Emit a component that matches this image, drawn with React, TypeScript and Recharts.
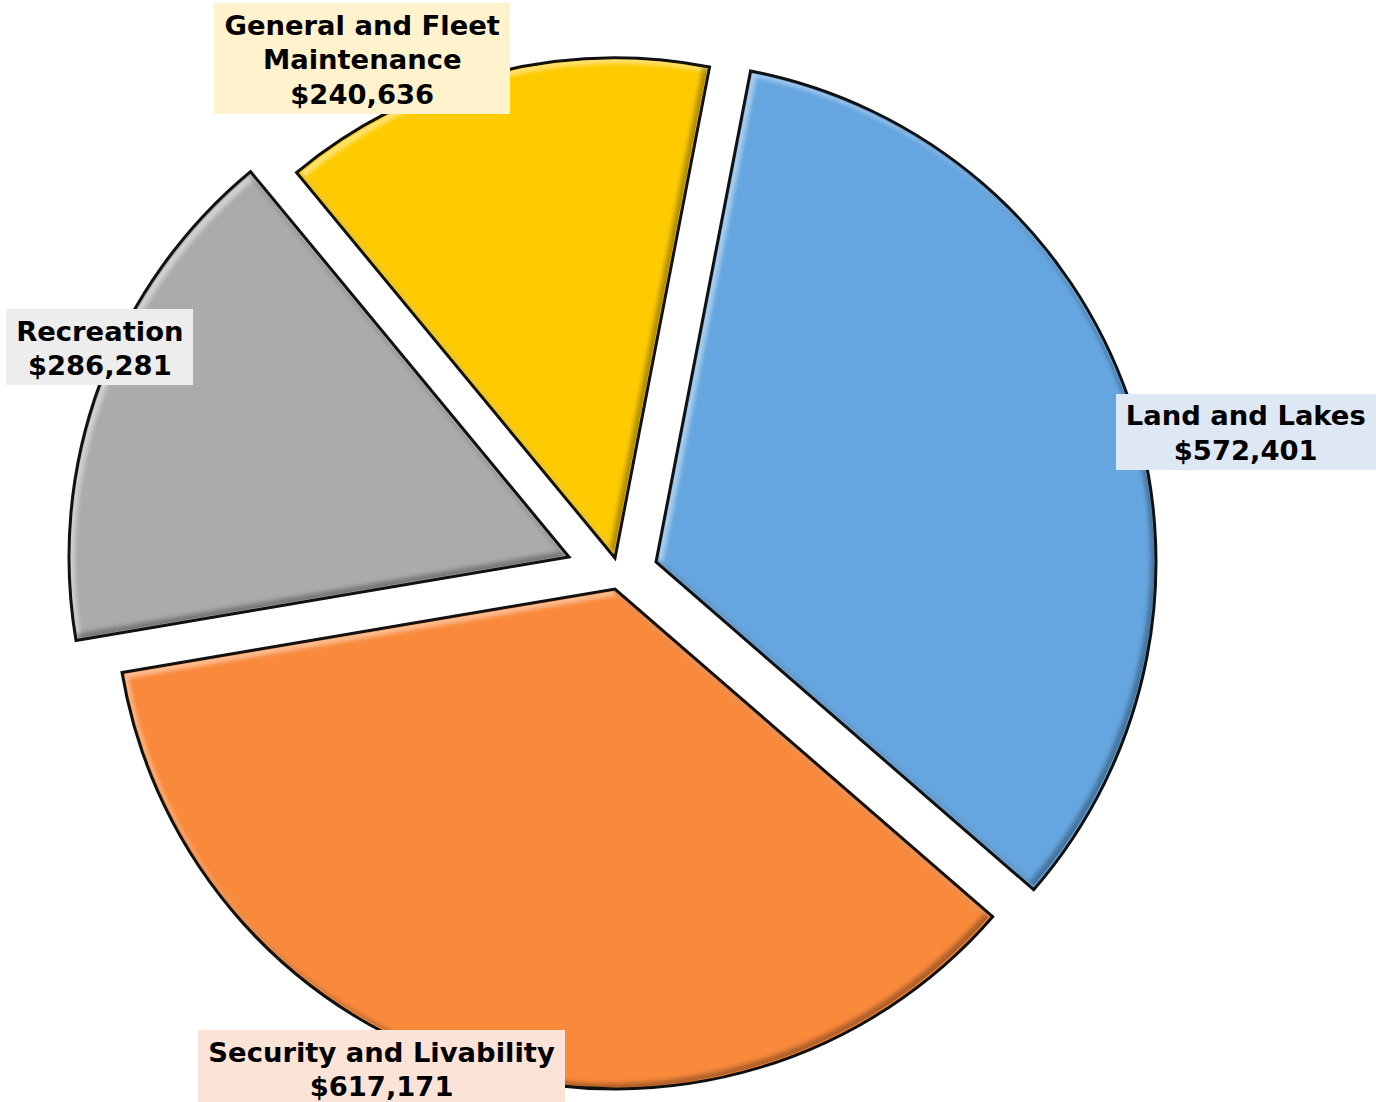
import React from "react";
import { PieChart, Pie, Cell } from "recharts";

// ---------- data ----------
const categories = [
  "Land and Lakes",
  "Security and Livability",
  "Recreation",
  "General and Fleet Maintenance",
];
const amounts = [572401, 617171, 286281, 240636];

// ---------- styles ----------
const sliceColors = ["#65A6E0", "#F9893B", "#ABABAB", "#FECB00"];
const labelFills = ["#DEE8F4", "#FBE4D7", "#EDEDED", "#FFF2CC"];

const WIDTH = 1376;
const HEIGHT = 1102;
const CX = 615;
const CY = 565;
const RADIUS = 500;
const START = 79.1;
const WRAP_CHARS = 23;
// per-slice explosion shift (px)
const EXPLODE = [
  { dx: 41, dy: -3 },
  { dx: 0, dy: 24 },
  { dx: -46, dy: -8 },
  { dx: 0, dy: -7 },
];
// label placement: distance as multiple of radius, angular nudge (deg, clockwise)
const LABEL_PLACE = [
  { k: 1.208, nudge: 6.6 },
  { k: 1.066, nudge: 10.3 },
  { k: 1.028, nudge: 3.7 },
  { k: 1.12, nudge: -12.5 },
];

const data = categories.map((name, i) => ({ name, value: amounts[i] }));

const fmt = (v: number) => "$" + v.toLocaleString("en-US");

const wrap = (s: string) => {
  const words = s.split(" ");
  const lines: string[] = [];
  let cur = "";
  for (const w of words) {
    const t = cur ? cur + " " + w : w;
    if (t.length > WRAP_CHARS && cur) {
      lines.push(cur);
      cur = w;
    } else cur = t;
  }
  if (cur) lines.push(cur);
  return lines;
};

const makeLabel = (k: number) => (props: any) => {
  if (props.index !== k) return null;
  const { cx, cy, midAngle, outerRadius } = props;
  const p = LABEL_PLACE[k];
  const ang = ((midAngle - p.nudge) * Math.PI) / 180;
  const d = outerRadius * p.k;
  const x = cx + d * Math.cos(ang);
  const y = cy - d * Math.sin(ang);
  const name: string = props.name ?? data[k].name;
  const value: number = props.value ?? data[k].value;
  const lines = [...wrap(name), fmt(value)];
  return (
    <foreignObject
      key={"lbl" + k}
      x={x - 300}
      y={y - 100}
      width={600}
      height={200}
      style={{ overflow: "visible" }}
    >
      <div
        style={{
          width: 600,
          height: 200,
          display: "flex",
          alignItems: "center",
          justifyContent: "center",
        }}
      >
        <div
          style={{
            background: labelFills[k],
            padding: "5.5px 10px 1.5px 10px",
            fontFamily: "'DejaVu Sans', Verdana, sans-serif",
            fontWeight: 700,
            fontSize: 27.4,
            lineHeight: "34.5px",
            color: "#000",
            textAlign: "center",
            whiteSpace: "nowrap",
          }}
        >
          {lines.map((l, i) => (
            <div key={i}>{l}</div>
          ))}
        </div>
      </div>
    </foreignObject>
  );
};

export default function App() {
  return (
    <div style={{ position: "relative", width: WIDTH, height: HEIGHT, background: "#fff" }}>
      <style>{`
        body { margin: 0; }
        .bevel-pie .recharts-sector { filter: url(#bevel); }
      `}</style>
      <svg width={0} height={0} style={{ position: "absolute" }}>
        <defs>
          <filter id="bevel" x="-5%" y="-5%" width="110%" height="110%" colorInterpolationFilters="sRGB">
            <feMorphology in="SourceAlpha" operator="erode" radius="2.5" result="inner" />
            <feGaussianBlur in="inner" stdDeviation="2" result="blur" />
            <feOffset in="blur" dx="4" dy="4" result="offD" />
            <feComposite in="inner" in2="offD" operator="out" result="hiMask" />
            <feFlood floodColor="#ffffff" floodOpacity="0.45" result="white" />
            <feComposite in="white" in2="hiMask" operator="in" result="hi" />
            <feOffset in="blur" dx="-4" dy="-4" result="offU" />
            <feComposite in="inner" in2="offU" operator="out" result="shMask" />
            <feFlood floodColor="#000000" floodOpacity="0.3" result="black" />
            <feComposite in="black" in2="shMask" operator="in" result="sh" />
            <feMerge>
              <feMergeNode in="SourceGraphic" />
              <feMergeNode in="hi" />
              <feMergeNode in="sh" />
            </feMerge>
          </filter>
        </defs>
      </svg>
      <PieChart width={WIDTH} height={HEIGHT} margin={{ top: 0, right: 0, bottom: 0, left: 0 }}>
        {data.map((_, k) => (
          <Pie
            key={k}
            data={data}
            dataKey="value"
            nameKey="name"
            cx={CX + EXPLODE[k].dx}
            cy={CY + EXPLODE[k].dy}
            innerRadius={0}
            outerRadius={RADIUS}
            startAngle={START}
            endAngle={START - 360}
            isAnimationActive={false}
            label={makeLabel(k)}
            labelLine={false}
            className="bevel-pie"
            stroke="none"
          >
            {data.map((__, i) => (
              <Cell
                key={i}
                fill={i === k ? sliceColors[i] : "none"}
                stroke={i === k ? "#111" : "none"}
                strokeWidth={i === k ? 3 : 0}
              />
            ))}
          </Pie>
        ))}
      </PieChart>
    </div>
  );
}
